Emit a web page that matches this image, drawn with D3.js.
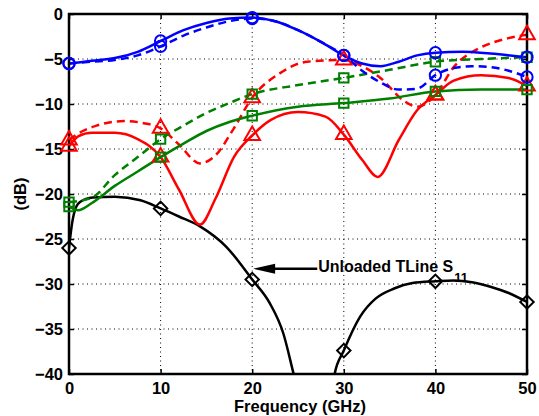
<!DOCTYPE html>
<html>
<head>
<meta charset="utf-8">
<script src="https://cdn.jsdelivr.net/npm/d3@7"></script>
<style>
  body { margin: 0; background: #fff; }
  svg { display: block; font-family: "Liberation Sans", Arial, sans-serif; }
</style>
</head>
<body>
<svg id="chart"></svg>
<script>
const WIDTH = 539;
const HEIGHT = 416;
const margin = { top: 14, right: 12, bottom: 42, left: 69 };

// tick values
const freqTicks = [0, 10, 20, 30, 40, 50];
const dbTicks = [0, -5, -10, -15, -20, -25, -30, -35, -40];

// curves, [GHz, dB]
const blueSolid = [[0,-5.5],[2.5,-5.2],[5,-4.9],[7.5,-4.2],[10,-3.0],[12.5,-1.8],[15,-1.0],[17.5,-0.5],[20,-0.4],[22.5,-0.8],[25,-1.8],[27.5,-3.1],[30,-4.6],[32,-5.5],[34,-5.8],[36,-5.3],[38,-4.6],[40,-4.3],[43,-4.2],[46,-4.4],[50,-4.8]];
const blueDashed = [[0,-5.5],[2.5,-5.3],[5,-5.1],[7.5,-4.6],[10,-3.6],[12.5,-2.4],[15,-1.5],[17.5,-0.8],[20,-0.5],[22.5,-0.8],[25,-1.8],[27.5,-3.1],[30,-4.6],[32,-6.3],[34,-7.6],[36,-8.4],[38,-8.3],[40,-6.8],[42,-6.0],[44,-5.8],[46,-5.9],[48,-6.3],[50,-7.0]];
const redSolid = [[0,-14.7],[1,-13.6],[2.5,-13.2],[5,-13.2],[7.5,-13.9],[10,-15.9],[12,-19.5],[14.3,-23.4],[16,-20.5],[18,-15.9],[20,-13.5],[22,-11.8],[25,-10.9],[28,-11.4],[30,-13.4],[32,-16.2],[33.7,-18.1],[36,-14.0],[38,-10.7],[40,-9.0],[42,-7.4],[45,-6.8],[48,-7.1],[50,-8.0]];
const redDashed = [[0,-14.0],[1.5,-13.0],[3,-12.4],[6,-11.9],[8,-12.1],[10,-12.7],[12,-14.5],[14.3,-16.6],[16,-15.7],[18,-12.7],[20,-9.3],[23,-6.6],[26,-5.3],[30,-5.1],[32,-5.8],[34,-7.1],[36.5,-9.6],[38,-10.3],[40,-9.0],[42,-5.9],[45,-3.7],[47.5,-2.8],[50,-2.3]];
const greenSolid = [[0,-21.4],[1,-21.8],[2.5,-21.0],[5,-19.1],[7.5,-17.5],[10,-15.9],[12.5,-14.4],[15,-13.0],[17.5,-12.0],[20,-11.3],[25,-10.3],[30,-9.9],[35,-9.4],[40,-8.6],[45,-8.4],[50,-8.4]];
const greenDashed = [[0,-20.9],[2.5,-20.4],[5,-17.9],[7.5,-15.9],[10,-13.9],[12.5,-12.4],[15,-11.0],[17.5,-9.9],[20,-8.9],[25,-7.9],[30,-7.1],[35,-6.2],[40,-5.3],[45,-5.0],[50,-4.8]];
const tline = [[0,-26.0],[0.3,-23.5],[0.65,-21.8],[1.2,-20.9],[2.6,-20.4],[5,-20.3],[7.8,-20.7],[10,-21.6],[12,-22.5],[14.3,-23.6],[17.2,-25.9],[20,-29.5],[21.9,-32.1],[23.4,-35.5],[24.5,-39.9],[25.5,-44],[27,-47],[28.5,-44],[29,-40],[30,-37.4],[31.8,-33.6],[33.5,-31.6],[35.5,-30.5],[37.5,-29.9],[40,-29.7],[42,-29.6],[44,-29.8],[46,-30.3],[48,-31.0],[50,-32.0]];

const series = [
  { data: tline, color: "#000000", dash: null, marker: "diamond" },
  { data: redSolid, color: "#ff0000", dash: null, marker: "triangle" },
  { data: redDashed, color: "#ff0000", dash: "8,5", marker: "triangle" },
  { data: greenSolid, color: "#008000", dash: null, marker: "square" },
  { data: greenDashed, color: "#008000", dash: "8,5", marker: "square" },
  { data: blueSolid, color: "#0000ff", dash: null, marker: "circle" },
  { data: blueDashed, color: "#0000ff", dash: "8,5", marker: "circle" },
];

const x = d3.scaleLinear().domain([0, 50]).range([margin.left, WIDTH - margin.right]);
const y = d3.scaleLinear().domain([-40, 0]).range([HEIGHT - margin.bottom, margin.top]);

const svg = d3.select("#chart").attr("width", WIDTH).attr("height", HEIGHT);

svg.append("defs").append("clipPath").attr("id", "plot-clip")
  .append("rect")
  .attr("x", x(0)).attr("y", y(0))
  .attr("width", x(50) - x(0)).attr("height", y(-40) - y(0));

// grid
const grid = svg.append("g").attr("stroke", "#000").attr("stroke-width", 1).attr("stroke-dasharray", "1,3.5");
grid.selectAll(".vg").data(freqTicks.slice(1, -1)).join("line")
  .attr("x1", d => x(d)).attr("x2", d => x(d))
  .attr("y1", y(0)).attr("y2", y(-40));
grid.selectAll(".hg").data(dbTicks.slice(1, -1)).join("line")
  .attr("x1", x(0)).attr("x2", x(50))
  .attr("y1", d => y(d)).attr("y2", d => y(d));

// axes with inward ticks
const tickLen = 5;
const fontSize = 16.5;
const fmt = d => d < 0 ? "\u2212" + Math.abs(d) : String(d);
const axisStyle = g => {
  g.select(".domain").remove();
  g.selectAll(".tick line").attr("stroke", "#000").attr("stroke-width", 1.5);
  g.selectAll(".tick text").attr("fill", "#000").attr("font-size", fontSize).attr("font-weight", "bold");
};
svg.append("g").attr("transform", `translate(0,${y(-40)})`)
  .call(d3.axisBottom(x).tickValues(freqTicks).tickFormat(fmt).tickSizeInner(-tickLen).tickSizeOuter(0).tickPadding(8))
  .call(axisStyle);
svg.append("g").attr("transform", `translate(${x(0)},0)`)
  .call(d3.axisLeft(y).tickValues(dbTicks).tickFormat(fmt).tickSizeInner(-tickLen).tickSizeOuter(0).tickPadding(6))
  .call(axisStyle)
  .selectAll(".tick text").attr("dy", "0.36em");
svg.append("g").attr("transform", `translate(0,${y(0)})`)
  .call(d3.axisTop(x).tickValues(freqTicks).tickFormat("").tickSizeInner(-tickLen).tickSizeOuter(0))
  .call(axisStyle);
svg.append("g").attr("transform", `translate(${x(50)},0)`)
  .call(d3.axisRight(y).tickValues(dbTicks).tickFormat("").tickSizeInner(-tickLen).tickSizeOuter(0))
  .call(axisStyle);

// curves
const line = d3.line().x(d => x(d[0])).y(d => y(d[1])).curve(d3.curveMonotoneX);
const curves = svg.append("g").attr("clip-path", "url(#plot-clip)");
series.forEach(s => {
  curves.append("path")
    .attr("d", line(s.data))
    .attr("fill", "none")
    .attr("stroke", s.color)
    .attr("stroke-width", 2.5)
    .attr("stroke-dasharray", s.dash);
});

// box
svg.append("rect")
  .attr("x", x(0)).attr("y", y(0))
  .attr("width", x(50) - x(0)).attr("height", y(-40) - y(0))
  .attr("fill", "none").attr("stroke", "#000").attr("stroke-width", 2.5);

// markers at every 10 GHz
const symbols = {
  circle: d3.symbol().type(d3.symbolCircle).size(100),
  triangle: d3.symbol().type(d3.symbolTriangle).size(105),
  square: d3.symbol().type(d3.symbolSquare).size(88),
  diamond: d3.symbol().type(d3.symbolSquare).size(90),
};
series.forEach(s => {
  const pts = s.data.filter(d => d[0] % 10 === 0 && d[1] >= -40);
  svg.append("g").selectAll("path").data(pts).join("path")
    .attr("d", symbols[s.marker]())
    .attr("transform", d => `translate(${x(d[0])},${y(d[1])})` + (s.marker === "diamond" ? " rotate(45)" : ""))
    .attr("fill", "none")
    .attr("stroke", s.color)
    .attr("stroke-width", 2);
});

// annotation
const tipX = x(20.1), tipY = y(-28.3);
svg.append("line")
  .attr("x1", tipX + 18).attr("x2", x(27.1))
  .attr("y1", tipY).attr("y2", tipY)
  .attr("stroke", "#000").attr("stroke-width", 2.5);
svg.append("path")
  .attr("d", `M${tipX},${tipY} L${tipX + 22},${tipY - 5} L${tipX + 22},${tipY + 5} Z`)
  .attr("fill", "#000");
const label = svg.append("text")
  .attr("x", x(27.2)).attr("y", tipY + 3)
  .attr("font-size", 16).attr("font-weight", "bold").attr("fill", "#000");
label.append("tspan").text("Unloaded TLine S");
label.append("tspan").attr("dx", 1).attr("dy", 10).attr("font-size", 13).text("11");

// axis titles
svg.append("text")
  .attr("x", (x(0) + x(50)) / 2 + 2).attr("y", 412)
  .attr("text-anchor", "middle").attr("font-size", fontSize).attr("font-weight", "bold")
  .text("Frequency (GHz)");
svg.append("text")
  .attr("transform", `translate(26,${(y(0) + y(-40)) / 2}) rotate(-90)`)
  .attr("text-anchor", "middle").attr("font-size", fontSize).attr("font-weight", "bold")
  .text("(dB)");
</script>
</body>
</html>
